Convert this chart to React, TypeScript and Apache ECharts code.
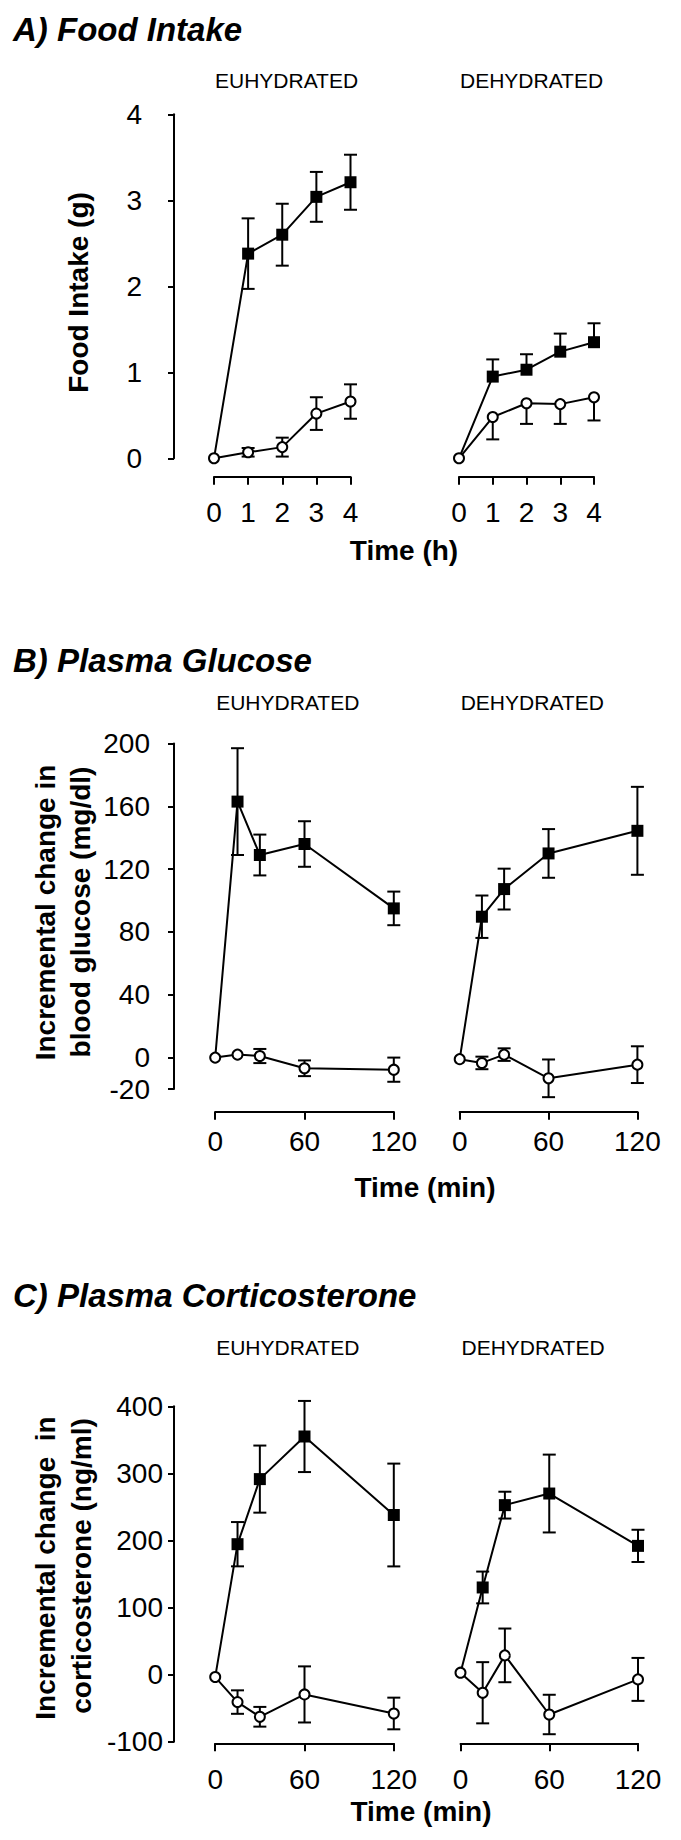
import React, { useEffect, useRef } from 'react';
import * as echarts from 'echarts';

// ---------- data ----------
const hourTimes = [0, 1, 2, 3, 4];
const minTimes = [0, 15, 30, 60, 120];

// A) Food intake (g)
const foodEuFilled = [0, 2.38, 2.6, 3.04, 3.21];
const foodEuFilledErr = [0, 0.41, 0.36, 0.29, 0.32];
const foodEuOpen = [0, 0.07, 0.13, 0.52, 0.66];
const foodEuOpenErr = [0, 0.05, 0.11, 0.19, 0.2];
const foodDeFilled = [0, 0.95, 1.03, 1.24, 1.35];
const foodDeFilledErr = [0, 0.2, 0.18, 0.21, 0.22];
const foodDeOpen = [0, 0.48, 0.64, 0.63, 0.71];
const foodDeOpenErr = [0, 0.26, 0.24, 0.23, 0.27];

// B) Plasma glucose (mg/dl)
const gluEuFilled = [0, 163, 129, 136, 95];
const gluEuFilledErr = [0, 34, 13, 14.5, 10.7];
const gluEuOpen = [0, 1.9, 1, -6.8, -7.7];
const gluEuOpenErr = [0, 0, 4.5, 5, 7.7];
const gluDeFilled = [-1, 89.7, 107.3, 130, 144.4];
const gluDeFilledErr = [0, 13.5, 13, 15.5, 28];
const gluDeOpen = [-1, -3.4, 1.9, -13.2, -4.5];
const gluDeOpenErr = [0, 4, 4, 12, 11.7];

// C) Plasma corticosterone (ng/ml)
const corEuFilled = [-3.5, 194.5, 291.5, 355, 238];
const corEuFilledErr = [0, 33, 50, 53, 76.6];
const corEuOpen = [-3.5, -40.8, -62.7, -29.4, -57.8];
const corEuOpenErr = [0, 17.5, 14.7, 41.8, 23.6];
const corDeFilled = [3, 130, 252.7, 270, 192];
const corDeFilledErr = [0, 23.7, 20, 58, 24];
const corDeOpen = [3, -26.9, 28.8, -59.3, -7];
const corDeOpenErr = [0, 45.6, 40, 29.4, 32];

const foodTicks = [0, 1, 2, 3, 4];
const gluTicks = [-20, 0, 40, 80, 120, 160, 200];
const corTicks = [-100, 0, 100, 200, 300, 400];
const hourTickLabels = [0, 1, 2, 3, 4];
const minTickLabels = [0, 60, 120];

const groupLabels = ['EUHYDRATED', 'DEHYDRATED'];
const panelTitles = ['A) Food Intake', 'B) Plasma Glucose', 'C) Plasma Corticosterone'];
const xTitles = ['Time (h)', 'Time (min)', 'Time (min)'];
const yTitles = [['Food Intake (g)'], ['Incremental change in', 'blood glucose (mg/dl)'], ['Incremental change  in', 'corticosterone (ng/ml)']];

// ---------- layout ----------
const FAMILY = '"Liberation Sans", Arial, Helvetica, sans-serif';

type Series = { v: number[]; e: number[]; dir: 'both' | 'up' | 'down' };
type Panel = {
  x: number[];
  xMax: number;
  xTicks: number[];
  yMin: number;
  yMax: number;
  yTicks: number[];
  top: number;
  height: number;
  lefts: number[];
  widths: number[];
  xOffset: number;
  xLabelMargin: number;
  yLabelMargin: number;
  groups: { filled: Series; open: Series }[];
};

const panels: Panel[] = [
  {
    x: hourTimes, xMax: 4, xTicks: hourTickLabels, yMin: 0, yMax: 4, yTicks: foodTicks,
    top: 114.3, height: 344, lefts: [214, 459], widths: [136.5, 135],
    xOffset: 18.4, xLabelMargin: 22, yLabelMargin: 32,
    groups: [
      { filled: { v: foodEuFilled, e: foodEuFilledErr, dir: 'both' }, open: { v: foodEuOpen, e: foodEuOpenErr, dir: 'both' } },
      { filled: { v: foodDeFilled, e: foodDeFilledErr, dir: 'up' }, open: { v: foodDeOpen, e: foodDeOpenErr, dir: 'down' } },
    ],
  },
  {
    x: minTimes, xMax: 120, xTicks: minTickLabels, yMin: -20, yMax: 200, yTicks: gluTicks,
    top: 743.5, height: 345.5, lefts: [215.2, 459.7], widths: [178.6, 177.7],
    xOffset: 22.7, xLabelMargin: 16, yLabelMargin: 24,
    groups: [
      { filled: { v: gluEuFilled, e: gluEuFilledErr, dir: 'both' }, open: { v: gluEuOpen, e: gluEuOpenErr, dir: 'both' } },
      { filled: { v: gluDeFilled, e: gluDeFilledErr, dir: 'both' }, open: { v: gluDeOpen, e: gluDeOpenErr, dir: 'both' } },
    ],
  },
  {
    x: minTimes, xMax: 120, xTicks: minTickLabels, yMin: -100, yMax: 400, yTicks: corTicks,
    top: 1406.3, height: 335.5, lefts: [215.2, 460.5], widths: [178.6, 177.5],
    xOffset: 1.5, xLabelMargin: 22, yLabelMargin: 11,
    groups: [
      { filled: { v: corEuFilled, e: corEuFilledErr, dir: 'both' }, open: { v: corEuOpen, e: corEuOpenErr, dir: 'both' } },
      { filled: { v: corDeFilled, e: corDeFilledErr, dir: 'both' }, open: { v: corDeOpen, e: corDeOpenErr, dir: 'both' } },
    ],
  },
];

const titleY = [29.5, 660.8, 1295];
const groupLabelY = [80.5, 702.7, 1347.7];
const xTitlePos = [[404, 550], [425, 1187], [421, 1811]];
const yTitlePos = [[[78.6, 292.5]], [[45, 912.5], [80, 912]], [[45, 1568], [81.7, 1566]]];
const yAxisX = 174;

function errorBarSeries(xs: number[], s: Series, g: number) {
  const dir = s.dir;
  return {
    type: 'custom',
    xAxisIndex: g,
    yAxisIndex: g,
    z: 2,
    silent: true,
    data: xs.map((t, i) => [t, s.v[i], s.e[i]]),
    renderItem: (_params: any, api: any) => {
      const x = api.value(0);
      const y = api.value(1);
      const e = api.value(2);
      if (!e) return { type: 'group', children: [] };
      const hi = dir === 'down' ? y : y + e;
      const lo = dir === 'up' ? y : y - e;
      const pHi = api.coord([x, hi]);
      const pLo = api.coord([x, lo]);
      const st = { stroke: '#000', lineWidth: 2 };
      const half = 6.5;
      const children: any[] = [
        { type: 'line', shape: { x1: pHi[0], y1: pHi[1], x2: pLo[0], y2: pLo[1] }, style: st },
      ];
      if (dir !== 'down') children.push({ type: 'line', shape: { x1: pHi[0] - half, y1: pHi[1], x2: pHi[0] + half, y2: pHi[1] }, style: st });
      if (dir !== 'up') children.push({ type: 'line', shape: { x1: pLo[0] - half, y1: pLo[1], x2: pLo[0] + half, y2: pLo[1] }, style: st });
      return { type: 'group', children };
    },
  };
}

function buildOption() {
  const grid: any[] = [];
  const xAxis: any[] = [];
  const yAxis: any[] = [];
  const series: any[] = [];
  const graphic: any[] = [];
  const lineStyle = { color: '#000', width: 2 };
  const labelFont = { fontSize: 28, color: '#000', fontFamily: FAMILY };

  panels.forEach((p, pi) => {
    p.groups.forEach((grp, gi) => {
      const g = grid.length;
      grid.push({ left: p.lefts[gi], top: p.top, width: p.widths[gi], height: p.height, containLabel: false });
      xAxis.push({
        type: 'value', gridIndex: g, min: 0, max: p.xMax,
        offset: p.xOffset,
        axisLine: { show: true, onZero: false, lineStyle },
        axisTick: { show: true, length: 8, lineStyle, customValues: p.xTicks },
        axisLabel: { ...labelFont, margin: p.xLabelMargin, customValues: p.xTicks },
        splitLine: { show: false },
      });
      yAxis.push({
        type: 'value', gridIndex: g, min: p.yMin, max: p.yMax,
        show: gi === 0,
        offset: p.lefts[gi] - yAxisX,
        axisLine: { show: true, onZero: false, lineStyle },
        axisTick: { show: true, length: 6, lineStyle, customValues: p.yTicks },
        axisLabel: { ...labelFont, margin: p.yLabelMargin, customValues: p.yTicks },
        splitLine: { show: false },
      });
      series.push(errorBarSeries(p.x, grp.filled, g));
      series.push(errorBarSeries(p.x, grp.open, g));
      series.push({
        type: 'line', xAxisIndex: g, yAxisIndex: g, z: 3, clip: false, silent: true,
        symbol: 'rect', symbolSize: 12,
        itemStyle: { color: '#000' },
        lineStyle,
        data: p.x.map((t, i) => (i === 0 ? { value: [t, grp.filled.v[i]], symbol: 'none' } : [t, grp.filled.v[i]])),
      });
      series.push({
        type: 'line', xAxisIndex: g, yAxisIndex: g, z: 4, clip: false, silent: true,
        symbol: 'circle', symbolSize: 10,
        itemStyle: { color: '#fff', borderColor: '#000', borderWidth: 2 },
        lineStyle,
        data: p.x.map((t, i) => [t, grp.open.v[i]]),
      });
      graphic.push({
        type: 'text', x: p.lefts[gi] + 1, y: groupLabelY[pi],
        style: { text: groupLabels[gi], font: `21px ${FAMILY}`, fill: '#000', textAlign: 'left', textVerticalAlign: 'middle' },
      });
    });
    graphic.push({
      type: 'text', x: 13, y: titleY[pi],
      style: { text: panelTitles[pi], font: `italic bold 33px ${FAMILY}`, fill: '#000', textAlign: 'left', textVerticalAlign: 'middle' },
    });
    graphic.push({
      type: 'text', x: xTitlePos[pi][0], y: xTitlePos[pi][1],
      style: { text: xTitles[pi], font: `bold 28px ${FAMILY}`, fill: '#000', textAlign: 'center', textVerticalAlign: 'middle' },
    });
    yTitles[pi].forEach((line, li) => {
      graphic.push({
        type: 'text', x: yTitlePos[pi][li][0], y: yTitlePos[pi][li][1], rotation: Math.PI / 2,
        style: { text: line, font: `bold 28px ${FAMILY}`, fill: '#000', textAlign: 'center', textVerticalAlign: 'middle' },
      });
    });
  });

  return {
    animation: false,
    backgroundColor: '#fff',
    grid,
    xAxis,
    yAxis,
    series,
    graphic,
  };
}

export default function App() {
  const ref = useRef<HTMLDivElement>(null);
  useEffect(() => {
    if (!ref.current) return;
    const chart = echarts.init(ref.current, undefined, { renderer: 'svg' });
    chart.setOption(buildOption() as any);
    return () => chart.dispose();
  }, []);
  return (
    <div
      ref={ref}
      style={{ position: 'absolute', left: 0, top: 0, width: 681, height: 1840, background: '#fff' }}
    />
  );
}
